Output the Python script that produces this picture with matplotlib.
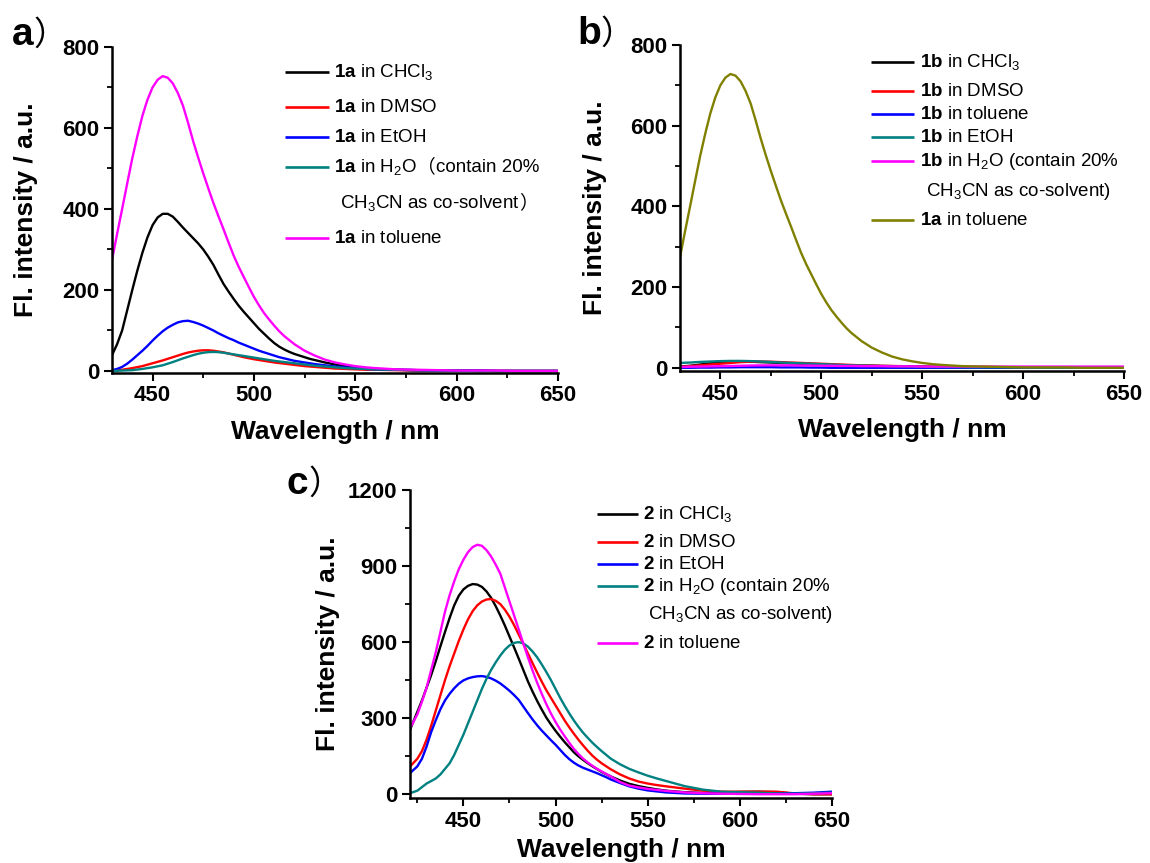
import re

import matplotlib
matplotlib.use("Agg")
import matplotlib.pyplot as plt
from matplotlib.ticker import MultipleLocator

plt.rcParams["font.family"] = ["Liberation Sans", "DejaVu Sans"]
plt.rcParams["mathtext.fontset"] = "custom"
plt.rcParams["mathtext.rm"] = "Liberation Sans"
plt.rcParams["mathtext.bf"] = "Liberation Sans:bold"
plt.rcParams["mathtext.it"] = "Liberation Sans:italic"
plt.rcParams["mathtext.default"] = "regular"

CJK = "Noto Sans CJK SC"

# ---------------- data ----------------
# panel a (and the 1a/toluene reference curve of panel b)
wl_a = [430, 432.5, 435, 437.5, 440, 442.5, 445, 447.5, 450, 452.5,
        455, 457.5, 460, 462.5, 465, 467.5, 470, 472.5, 475, 477.5,
        480, 482.5, 485, 487.5, 490, 492.5, 495, 497.5, 500, 502.5,
        505, 507.5, 510, 512.5, 515, 517.5, 520, 522.5, 525, 527.5,
        530, 535, 540, 545, 550, 555, 560,
        570, 580, 590, 600, 610, 620, 630, 640, 650]

a_chcl3 = [39, 66, 100, 150, 200, 248, 292, 330, 360, 379,
           388, 388, 381, 368, 354, 341, 328, 315, 300, 282,
           262, 238, 215, 196, 178, 161, 146, 132, 118, 104,
           92, 80, 69, 60, 53, 47, 42, 38, 34, 30,
           27, 21, 16, 12, 9, 7, 5,
           3, 2, 1, 1, 1, 0, 0, 0, 0]
a_dmso = [0, 1.5, 3, 5, 7, 9.5, 12, 15.5, 19, 22.5,
          26, 30, 34, 38, 42, 45.5, 48, 50, 51, 51,
          50, 48, 46, 43, 40, 37, 34, 31.5, 29, 27,
          25, 23, 21, 19.5, 18, 16.5, 15, 13.5, 12, 11,
          10, 8, 6, 5, 4, 3, 3,
          2, 1, 1, 1, 0, 0, 0, 0, 0]
a_etoh = [2, 5, 10, 18, 28, 39, 50, 62, 75, 87,
          98, 107, 114, 120, 123, 124, 121, 117, 112, 106,
          100, 93, 87, 81, 76, 70, 65, 60, 55, 50,
          46, 42, 38, 34, 31, 28, 25, 23, 21, 19,
          17, 14, 11, 9, 7, 5, 4,
          3, 2, 1, 1, 1, 0, 0, 0, 0]
a_h2o = [0, 0.5, 1, 1.5, 2, 3.5, 5, 7, 9, 11.5,
         14, 18, 22, 26.5, 31, 35, 39, 42.5, 45, 46.5,
         47, 46.5, 45, 43, 41, 39, 37, 35, 33, 31,
         29, 27, 25, 23.5, 22, 20.5, 19, 17.5, 16, 14.5,
         13, 11, 9, 7, 6, 5, 4,
         3, 2, 1, 1, 0, 0, 0, 0, 0]
a_toluene = [274, 338, 400, 463, 525, 580, 630, 670, 700, 719,
             728, 724, 710, 686, 655, 613, 568, 527, 488, 451,
             415, 382, 350, 317, 285, 257, 232, 207, 183, 162,
             143, 127, 112, 98, 86, 76, 66, 58, 50, 44,
             38, 28, 21, 16, 12, 9, 7,
             4, 3, 2, 1, 1, 1, 0, 0, 0]

# panel b, weak 1b emissions
wl_b = [430, 435, 440, 445, 450, 455, 460, 465, 470, 475, 480, 485, 490,
        495, 500, 505, 510, 515, 520, 525, 530, 535, 540, 545, 550, 555,
        560, 570, 580, 590, 600, 610, 620, 630, 640, 650]

b_chcl3 = [3, 5, 8, 11, 13, 15, 15, 15, 14, 13, 12, 11, 10,
           9, 8, 7, 6, 6, 5, 5, 4, 4, 3, 3, 3, 2,
           2, 2, 1, 1, 1, 1, 0, 0, 0, 0]
b_dmso = [2, 4, 6, 8, 10, 12, 14, 15, 15.5, 15, 14, 13, 12,
          11, 10, 9, 8, 7, 6, 5.5, 5, 4.5, 4, 3.5, 3, 3,
          2.5, 2, 2, 1.5, 1, 1, 1, 1, 1, 1]
b_toluene = [0, 0, 0.5, 0.5, 1, 1, 1.5, 1.5, 1.5, 1.5, 1, 1, 1,
             0.5, 0.5, 0, 0, 0, 0, 0, 0, 0, 0, 0, 0, 0,
             0, 0, 0, 0, 0, 0, 0, 0, 0, 0]
b_etoh = [12, 13, 14.5, 15.5, 16.5, 17, 17, 16.5, 15.5, 14.5, 13, 12, 11,
          10, 9, 8, 7, 6, 5.5, 5, 4.5, 4, 3.5, 3, 2.5, 2,
          2, 1.5, 1, 1, 0.5, 0, 0, 0, 0, 0]
b_h2o = [2, 2.5, 3, 3.5, 4, 4.5, 5, 5.5, 6, 6, 6, 6, 5.5,
         5.5, 5, 5, 4.5, 4.5, 4, 4, 4, 3.5, 3.5, 3.5, 3, 3,
         3, 3, 3, 3, 3, 3, 3, 3, 3, 3]

# panel c
wl_c = [421, 425, 427.5, 430, 432.5, 435, 437.5, 440, 442.5, 445,
        447.5, 450, 452.5, 455, 457.5, 460, 462.5, 465, 467.5, 470,
        472.5, 475, 477.5, 480, 482.5, 485, 487.5, 490, 492.5, 495,
        497.5, 500, 502.5, 505, 507.5, 510, 512.5, 515, 517.5, 520,
        522.5, 525, 527.5, 530, 535, 540, 545, 550, 555, 560,
        570, 580, 590, 600, 610, 620, 630, 640, 650]

c_chcl3 = [254, 325, 370, 420, 470, 525, 583, 640, 695, 745,
           783, 808, 822, 829, 827, 818, 800, 775, 742, 705,
           665, 622, 579, 535, 490, 445, 405, 368, 334, 302,
           275, 250, 227, 205, 185, 165, 149, 135, 122, 110,
           99, 88, 79, 70, 54, 41, 32, 25, 19, 14,
           8, 5, 6, 9, 10, 8, 2, 0, 0]
c_dmso = [109, 140, 170, 215, 270, 330, 390, 450, 505, 555,
          605, 650, 690, 722, 745, 760, 768, 770, 763, 750,
          728, 700, 667, 630, 593, 555, 517, 480, 444, 410,
          380, 350, 320, 290, 263, 238, 214, 192, 171, 152,
          136, 122, 110, 98, 78, 62, 50, 42, 36, 31,
          22, 14, 10, 10, 10, 10, 3, 0, 0]
c_etoh = [83, 110, 140, 188, 245, 292, 335, 370, 396, 418,
          436, 449, 457, 462, 465, 466, 463, 457, 448, 437,
          423, 408, 391, 372, 346, 320, 295, 272, 251, 232,
          213, 195, 175, 155, 138, 124, 113, 104, 97, 90,
          83, 75, 67, 58, 44, 31, 22, 15, 11, 7,
          3, 2, 2, 2, 2, 3, 4, 6, 10]
c_h2o = [4, 14, 28, 42, 52, 62, 78, 100, 122, 155,
         195, 235, 280, 325, 370, 415, 455, 490, 520, 547,
         570, 587, 597, 600, 595, 582, 563, 540, 512, 482,
         450, 415, 380, 348, 318, 290, 265, 242, 222, 203,
         186, 170, 155, 140, 118, 100, 86, 73, 62, 52,
         32, 18, 10, 8, 6, 3, 2, 4, 6]
c_toluene = [260, 315, 365, 420, 490, 560, 640, 720, 785, 840,
             888, 925, 955, 975, 984, 980, 963, 938, 906, 870,
             815, 760, 705, 650, 595, 540, 488, 440, 396, 355,
             318, 285, 255, 228, 202, 178, 158, 140, 125, 112,
             100, 90, 80, 70, 48, 34, 27, 21, 17, 13,
             7, 4, 2, 1, 0, 0, 0, 2, 4]

labels_a = ["$\\mathbf{1a}$ in CHCl$_3$",
            "$\\mathbf{1a}$ in DMSO",
            "$\\mathbf{1a}$ in EtOH",
            "$\\mathbf{1a}$ in H$_2$O（contain 20%\nCH$_3$CN as co-solvent）",
            "$\\mathbf{1a}$ in toluene"]
labels_b = ["$\\mathbf{1b}$ in CHCl$_3$",
            "$\\mathbf{1b}$ in DMSO",
            "$\\mathbf{1b}$ in toluene",
            "$\\mathbf{1b}$ in EtOH",
            "$\\mathbf{1b}$ in H$_2$O (contain 20%\nCH$_3$CN as co-solvent)",
            "$\\mathbf{1a}$ in toluene"]
labels_c = ["$\\mathbf{2}$ in CHCl$_3$",
            "$\\mathbf{2}$ in DMSO",
            "$\\mathbf{2}$ in EtOH",
            "$\\mathbf{2}$ in H$_2$O (contain 20%\nCH$_3$CN as co-solvent)",
            "$\\mathbf{2}$ in toluene"]

colors_a = ["black", "#ff0000", "#0000ff", "#008080", "#ff00ff"]
colors_b = ["black", "#ff0000", "#0000ff", "#008080", "#ff00ff", "#808000"]
colors_c = ["black", "#ff0000", "#0000ff", "#008080", "#ff00ff"]


def put_line(ax, x, y, line, size, transform, weight="normal"):
    """Write one line of text; full-width brackets go in the CJK font."""
    prev = None
    for piece in [p for p in re.split(r"([（）])", line) if p]:
        cjk = piece in ("（", "）")
        kw = dict(va="baseline", ha="left", fontsize=size,
                  family=[CJK] if cjk else ["Liberation Sans"],
                  fontweight="normal" if cjk else weight,
                  annotation_clip=False)
        if prev is None:
            prev = ax.annotate(piece, xy=(x, y), xycoords=transform, **kw)
        else:
            prev = ax.annotate(piece, xy=(1, y), xycoords=(prev, transform), **kw)
    return prev


def draw_legend(ax, labels, colors, x_line, x_text, x_cont, rows, size=13.5):
    # rows: y of every text row (continuation lines included)
    r = 0
    for label, color in zip(labels, colors):
        lines = label.split("\n")
        y = rows[r]
        ax.plot(x_line, [y, y], color=color, lw=1.9, transform=ax.transAxes,
                clip_on=False, solid_capstyle="butt")
        put_line(ax, x_text, y - 0.016, lines[0], size, ax.transAxes)
        for extra in lines[1:]:
            r += 1
            put_line(ax, x_cont, rows[r] - 0.016, extra, size, ax.transAxes)
        r += 1


def style_axes(ax, xlim, ylim, yticks, yminor):
    ax.set_xlim(*xlim)
    ax.set_ylim(*ylim)
    ax.set_xticks([450, 500, 550, 600, 650])
    ax.xaxis.set_minor_locator(MultipleLocator(25))
    ax.set_yticks(yticks)
    ax.yaxis.set_minor_locator(MultipleLocator(yminor))
    for side in ["top", "right"]:
        ax.spines[side].set_visible(False)
    for side in ["left", "bottom"]:
        ax.spines[side].set_linewidth(1.8)
    ax.tick_params(which="major", direction="out", length=6, width=1.5,
                   labelsize=16, pad=3)
    ax.tick_params(which="minor", direction="out", length=3.5, width=1.3)
    for lab in ax.get_xticklabels() + ax.get_yticklabels():
        lab.set_fontweight("bold")
    ax.set_xlabel("Wavelength / nm", fontsize=19, fontweight="bold")
    ax.set_ylabel("Fl. intensity / a.u.", fontsize=19, fontweight="bold")


fig = plt.figure(figsize=(11.5, 8.63), dpi=100)
ax_a = fig.add_axes([0.0974, 0.5678, 0.3878, 0.3778])
ax_b = fig.add_axes([0.5913, 0.5701, 0.3861, 0.3778])
ax_c = fig.add_axes([0.3565, 0.0753, 0.3670, 0.3569])

# panel a
for vals, col in zip([a_chcl3, a_dmso, a_etoh, a_h2o, a_toluene], colors_a):
    ax_a.plot(wl_a, vals, color=col, lw=1.7)
style_axes(ax_a, (430, 650), (-5, 800), [0, 200, 400, 600, 800], 100)
draw_legend(ax_a, labels_a, colors_a, (0.388, 0.486), 0.498, 0.511,
            [0.923, 0.817, 0.725, 0.633, 0.522, 0.414])

# panel b
for vals, col in zip([b_chcl3, b_dmso, b_toluene, b_etoh, b_h2o], colors_b):
    ax_b.plot(wl_b, vals, color=col, lw=1.7)
ax_b.plot(wl_a, a_toluene, color=colors_b[5], lw=1.7)
style_axes(ax_b, (430, 650), (-8, 800), [0, 200, 400, 600, 800], 100)
draw_legend(ax_b, labels_b, colors_b, (0.430, 0.526), 0.540, 0.553,
            [0.949, 0.860, 0.788, 0.718, 0.644, 0.554, 0.463])

# panel c
for vals, col in zip([c_chcl3, c_dmso, c_etoh, c_h2o, c_toluene], colors_c):
    ax_c.plot(wl_c, vals, color=col, lw=1.7)
style_axes(ax_c, (421, 650), (-15, 1200), [0, 300, 600, 900, 1200], 150)
draw_legend(ax_c, labels_c, colors_c, (0.444, 0.540), 0.552, 0.565,
            [0.922, 0.832, 0.760, 0.687, 0.596, 0.504])

for ax in [ax_a, ax_b, ax_c]:
    ax.yaxis.set_label_coords(-0.165, 0.5)
ax_a.xaxis.set_label_coords(0.5, -0.145)
ax_b.xaxis.set_label_coords(0.5, -0.145)
ax_c.xaxis.set_label_coords(0.5, -0.13)

# panel letters
for letter, (px, py) in zip(["a", "b", "c"], [(12, 45), (577, 44), (287, 494)]):
    x, y = px / 1150, 1 - py / 863
    t = ax_a.annotate(letter, xy=(x, y), xycoords=fig.transFigure, va="baseline",
                      ha="left", fontsize=28, fontweight="bold",
                      annotation_clip=False)
    ax_a.annotate("）", xy=(1, y), xycoords=(t, fig.transFigure), va="baseline",
                  ha="left", fontsize=24, family=[CJK], annotation_clip=False)

fig.savefig("out.png", dpi=100)
